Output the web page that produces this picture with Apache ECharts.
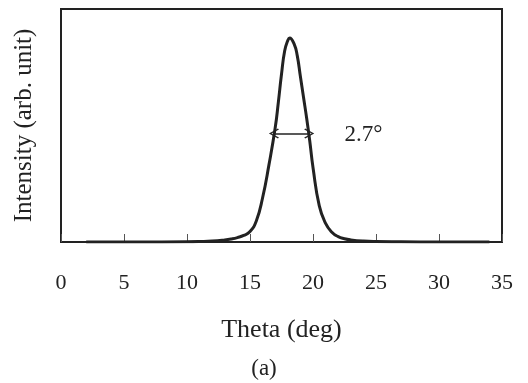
<!DOCTYPE html>
<html>
<head>
<meta charset="utf-8">
<script src="https://cdn.jsdelivr.net/npm/echarts@6/dist/echarts.min.js"></script>
<style>
  html, body { margin: 0; padding: 0; background: #fff; }
  #chart { width: 528px; height: 383px; }
</style>
</head>
<body>
<div id="chart"></div>
<script>
// values
const theta = [2, 6, 10, 11, 12, 13, 13.5, 14, 14.5, 15, 15.5, 16, 16.5, 17, 17.25, 17.5, 17.75, 18, 18.15,
  18.5, 18.75, 19, 19.25, 19.5, 19.75, 20, 20.5, 21, 21.5, 22, 22.5, 23, 24, 25, 27, 30, 34];
const intensity = [0, 0, 0.001, 0.002, 0.004, 0.009, 0.013, 0.019, 0.028, 0.045, 0.09, 0.19, 0.33, 0.49, 0.6, 0.72,
  0.82, 0.865, 0.876, 0.85, 0.8, 0.71, 0.62, 0.53, 0.43, 0.32, 0.155, 0.08, 0.042, 0.023, 0.014, 0.009, 0.004, 0.002, 0.001, 0, 0];
const xTicks = [0, 5, 10, 15, 20, 25, 30, 35];

// FWHM arrow and its label
const fwhmLevel = 0.466;
const fwhmFrom = 16.9;
const fwhmTo = 19.7;
const fwhmText = '2.7°';
const fwhmTextPos = [24.0, 0.46];

const FONT = '"Liberation Serif", "DejaVu Serif", serif';
const INK = '#222';
const chevron = 'path://M5,0 L10,9 L9,10 L5,2.5 L1,10 L0,9 Z';

const chart = echarts.init(document.getElementById('chart'));

chart.setOption({
  animation: false,
  title: {
    text: '(a)',
    left: 'center',
    top: 352,
    textStyle: { fontFamily: FONT, fontSize: 23, fontWeight: 'normal', color: INK }
  },
  grid: {
    left: 61, top: 9, right: 26, bottom: 141,
    outerBoundsMode: 'none',
    containLabel: false,
    show: true, borderColor: INK, borderWidth: 2
  },
  xAxis: {
    type: 'value',
    min: xTicks[0],
    max: xTicks[xTicks.length - 1],
    interval: 5,
    name: 'Theta (deg)',
    nameLocation: 'middle',
    nameGap: 75,
    nameTextStyle: { fontFamily: FONT, fontSize: 26, color: INK },
    axisLine: { lineStyle: { color: INK, width: 2 } },
    axisTick: { inside: true, length: 8, lineStyle: { color: '#555', width: 1 } },
    axisLabel: { margin: 30, fontFamily: FONT, fontSize: 22, color: INK },
    splitLine: { show: false }
  },
  yAxis: {
    type: 'value',
    min: 0,
    max: 1,
    name: 'Intensity (arb. unit)',
    nameLocation: 'middle',
    nameGap: 24,
    nameTextStyle: { fontFamily: FONT, fontSize: 25, color: INK },
    axisLine: { show: true, lineStyle: { color: INK, width: 2 } },
    axisTick: { show: false },
    axisLabel: { show: false },
    splitLine: { show: false }
  },
  series: [{
    type: 'line',
    data: theta.map((t, i) => [t, intensity[i]]),
    showSymbol: false,
    smooth: 0.5,
    lineStyle: { color: INK, width: 3 },
    markLine: {
      silent: true,
      symbol: [chevron, chevron],
      symbolSize: [10, 10],
      label: { show: false },
      lineStyle: { color: INK, width: 1.5, type: 'solid' },
      data: [[{ coord: [fwhmFrom, fwhmLevel] }, { coord: [fwhmTo, fwhmLevel] }]]
    },
    markPoint: {
      silent: true,
      symbol: 'circle',
      symbolSize: 1,
      itemStyle: { color: 'rgba(0,0,0,0)' },
      label: {
        show: true,
        position: 'inside',
        formatter: fwhmText,
        fontFamily: FONT,
        fontSize: 23,
        color: INK
      },
      data: [{ coord: fwhmTextPos }]
    }
  }]
});
</script>
</body>
</html>
